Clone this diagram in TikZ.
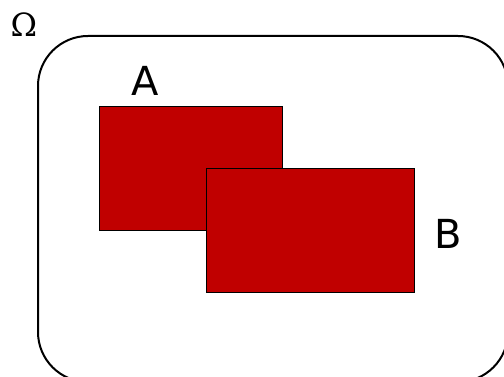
\documentclass[tikz,border=0pt]{standalone}
\usepackage{fontspec}
\setmainfont{DejaVu Sans}
\newfontfamily\omegafont{DejaVu Serif}
\begin{document}
\begin{tikzpicture}[x=1pt,y=-1pt]
    \tikzstyle{setbox}=[draw=black,line width=0.8pt,fill={rgb,255:red,192;green,0;blue,0},anchor=north west,inner sep=0pt]
    \tikzstyle{setlabel}=[font=\fontsize{40}{48}\selectfont,inner sep=0pt]

    \useasboundingbox (0,0) rectangle (504,377);

    % universe
    \draw[line width=2pt,rounded corners=50pt] (38,36) rectangle (508,382);
    \node[font=\fontsize{32}{38}\selectfont\omegafont,inner sep=0pt] (omega) at (24,25) {Ω};

    % the two sets
    \node[setbox,minimum width=183pt,minimum height=124pt] (A) at (99,106) {};
    \node[setbox,minimum width=208pt,minimum height=124pt] (B) at (206,168) {};

    \node[setlabel] (labA) at (145,81) {A};
    \node[setlabel] (labB) at (448,234) {B};
\end{tikzpicture}
\end{document}
